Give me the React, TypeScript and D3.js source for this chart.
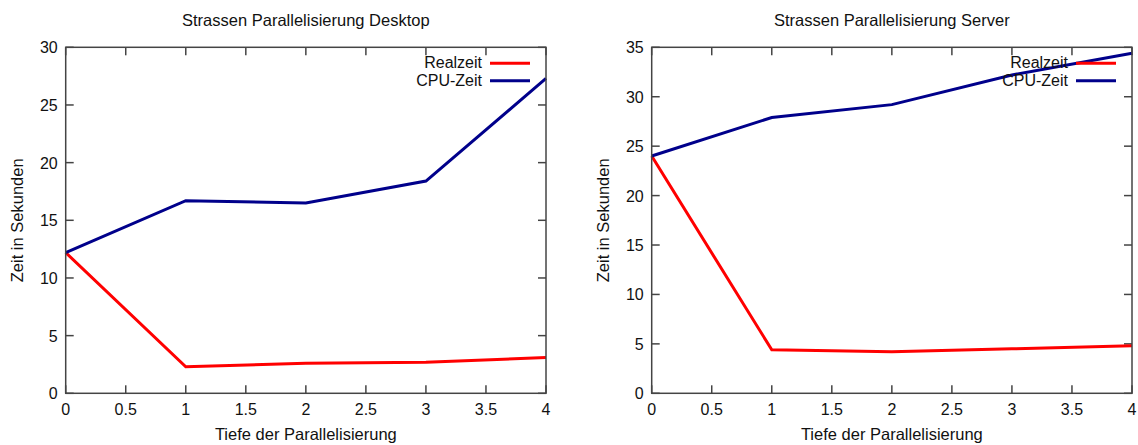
import React from "react";
import * as d3 from "d3";

const depth = [0, 1, 2, 3, 4];
const desktopReal = [12.2, 2.3, 2.6, 2.7, 3.1];
const desktopCpu = [12.2, 16.7, 16.5, 18.4, 27.3];
const serverReal = [24.0, 4.4, 4.2, 4.5, 4.8];
const serverCpu = [24.0, 27.9, 29.2, 32.2, 34.4];
const xTicks = [0, 0.5, 1, 1.5, 2, 2.5, 3, 3.5, 4];
const desktopYTicks = [0, 5, 10, 15, 20, 25, 30];
const serverYTicks = [0, 5, 10, 15, 20, 25, 30, 35];
const seriesNames = ["Realzeit", "CPU-Zeit"];
const colors = ["#ff0000", "#00008b"];

const FONT = "'Liberation Sans', Arial, sans-serif";

type PanelProps = {
  left: number;
  right: number;
  top: number;
  bottom: number;
  title: string;
  yMax: number;
  yTicks: number[];
  series: number[][];
};

function Panel({ left, right, top, bottom, title, yMax, yTicks, series }: PanelProps) {
  const x = d3.scaleLinear().domain([0, 4]).range([left, right]);
  const y = d3.scaleLinear().domain([0, yMax]).range([bottom, top]);
  const line = d3
    .line<number>()
    .x((_, i) => x(depth[i]))
    .y((d) => y(d));
  const tickLen = 8;
  const frame = "#444";
  const cx = (left + right) / 2;
  return (
    <g>
      <text x={cx} y={26} textAnchor="middle" fontFamily={FONT} fontSize={16.5} fill="#111">
        {title}
      </text>
      {xTicks.map((t) => (
        <g key={"x" + t}>
          <line x1={x(t)} x2={x(t)} y1={bottom} y2={bottom - tickLen} stroke={frame} strokeWidth={1.5} />
          <line x1={x(t)} x2={x(t)} y1={top} y2={top + tickLen} stroke={frame} strokeWidth={1.5} />
          <text x={x(t)} y={415} textAnchor="middle" fontFamily={FONT} fontSize={16} fill="#111">
            {t}
          </text>
        </g>
      ))}
      {yTicks.map((t) => (
        <g key={"y" + t}>
          <line x1={left} x2={left + tickLen} y1={y(t)} y2={y(t)} stroke={frame} strokeWidth={1.5} />
          <line x1={right} x2={right - tickLen} y1={y(t)} y2={y(t)} stroke={frame} strokeWidth={1.5} />
          <text x={left - 8} y={y(t) + 6} textAnchor="end" fontFamily={FONT} fontSize={16} fill="#111">
            {t}
          </text>
        </g>
      ))}
      {series.map((s, i) => (
        <path key={i} d={line(s) || ""} fill="none" stroke={colors[i]} strokeWidth={3} strokeLinejoin="miter" />
      ))}
      <rect x={left} y={top} width={right - left} height={bottom - top} fill="none" stroke={frame} strokeWidth={1.5} />
      {seriesNames.map((n, i) => (
        <g key={n}>
          <text x={right - 64} y={top + 21 + i * 17.5} textAnchor="end" fontFamily={FONT} fontSize={16} fill="#111">
            {n}
          </text>
          <line x1={right - 56} x2={right - 16} y1={top + 16 + i * 17.5} y2={top + 16 + i * 17.5} stroke={colors[i]} strokeWidth={3} />
        </g>
      ))}
      <text x={cx} y={440} textAnchor="middle" fontFamily={FONT} fontSize={16.5} fill="#111">
        Tiefe der Parallelisierung
      </text>
      <text
        transform={`translate(${left - 43},${(top + bottom) / 2}) rotate(-90)`}
        textAnchor="middle"
        fontFamily={FONT}
        fontSize={16.5}
        fill="#111"
      >
        Zeit in Sekunden
      </text>
    </g>
  );
}

export default function App() {
  return (
    <svg width={1138} height={445} style={{ position: "absolute", left: 0, top: 0 }}>
      <rect width={1138} height={445} fill="#fff" />
      <Panel
        left={65.7}
        right={546}
        top={47.3}
        bottom={393.3}
        title="Strassen Parallelisierung Desktop"
        yMax={30}
        yTicks={desktopYTicks}
        series={[desktopReal, desktopCpu]}
      />
      <Panel
        left={651.7}
        right={1132}
        top={47.3}
        bottom={393.3}
        title="Strassen Parallelisierung Server"
        yMax={35}
        yTicks={serverYTicks}
        series={[serverReal, serverCpu]}
      />
    </svg>
  );
}
